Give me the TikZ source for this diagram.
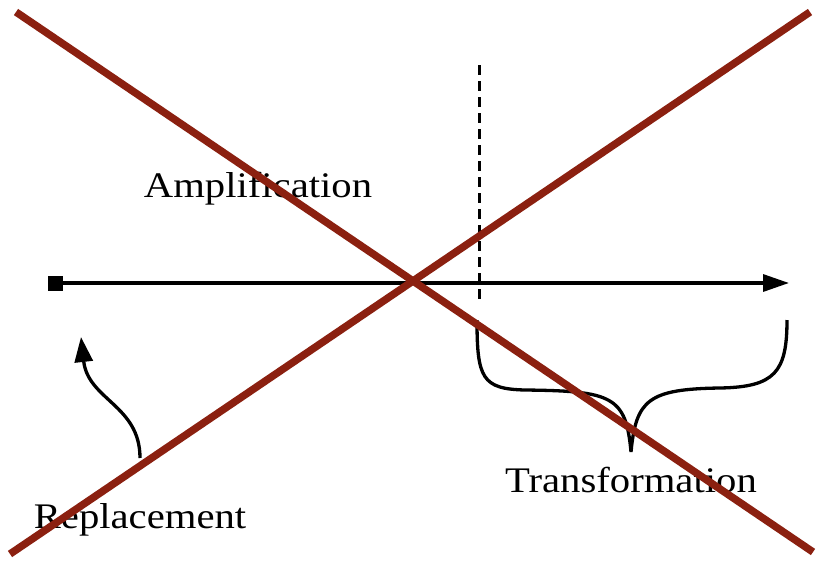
\documentclass[tikz,border=0pt]{standalone}
\usepackage{fontspec}
\setmainfont{Liberation Serif}
\usetikzlibrary{arrows.meta}
\definecolor{xred}{RGB}{139,32,16}
\tikzset{
  lbl/.style={anchor=base, inner sep=0pt, font=\fontsize{36}{40}\selectfont, xscale=1.13},
  blk/.style={line width=3.3pt, draw=black},
  crossline/.style={line width=7.5pt, draw=xred},
}
\begin{document}
\begin{tikzpicture}[x=1pt,y=-1pt]
\useasboundingbox (0,0) rectangle (817,563);
% labels
\node[lbl] (amp) at (258,197) {Amplification};
\node[lbl] (repl) at (140,528) {Replacement};
\node[lbl] (trans) at (631,492) {Transformation};
% axis
\node[fill=black, minimum size=15pt, inner sep=0pt] (start) at (55,283) {};
\coordinate (end) at (789,283);
\draw[blk, -{Triangle[length=26pt,width=17pt]}] (start) -- (end);
% dashed line
\coordinate (dtop) at (479,65);
\coordinate (dbot) at (479,301);
\draw[line width=3pt, dash pattern=on 10pt off 6pt] (dtop) -- (dbot);
% brace
\coordinate (bl) at (477,320);
\coordinate (btip) at (631,452);
\coordinate (br) at (787,320);
\draw[blk] (bl) .. controls (477,378) and (482,389) .. (525,390)
  .. controls (612,391) and (626,396) .. (btip)
  .. controls (636,400) and (648,389) .. (720,388)
  .. controls (775,387) and (787,372) .. (br);
% replacement arrow
\coordinate (rs) at (140,458);
\coordinate (re) at (81,337);
\draw[blk, -{Triangle[length=25pt,width=18pt]}] (rs) .. controls (140,405) and (88,400) .. (re);
% cross
\coordinate (c1a) at (16,12);
\coordinate (c1b) at (813,552);
\coordinate (c2a) at (10,554);
\coordinate (c2b) at (810,12);
\draw[crossline] (c1a) -- (c1b);
\draw[crossline] (c2a) -- (c2b);
\end{tikzpicture}
\end{document}
